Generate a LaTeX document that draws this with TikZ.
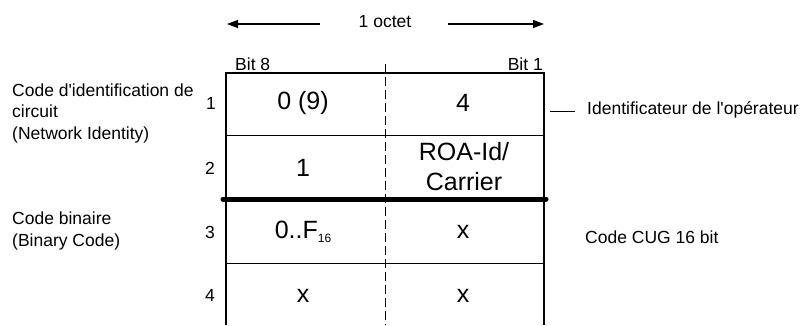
\documentclass[tikz,border=0pt]{standalone}
\usepackage{fontspec}
\setmainfont{Liberation Sans}
\usetikzlibrary{arrows.meta}
\begin{document}
\begin{tikzpicture}[x=1pt,y=-1pt,
  small/.style={font=\fontsize{17.5}{21.5}\selectfont, inner sep=0pt},
  big/.style={font=\fontsize{25}{30}\selectfont, inner sep=0pt, align=center},
  frame/.style={line width=1.3pt},
  thin/.style={line width=0.9pt},
  octarrow/.style={line width=1.1pt, -{Triangle[length=11pt,width=8pt]}}
]
\useasboundingbox (0,0) rectangle (805,325);
% arrows and octet label
\node[small] (oct) at (385,22) {1 octet};
\coordinate (la) at (320,24);
\coordinate (lb) at (227,24);
\coordinate (ra) at (448,24);
\coordinate (rb) at (544,24);
\draw[octarrow] (la) -- (lb);
\draw[octarrow] (ra) -- (rb);
% bit labels
\node[small, anchor=west] (b8) at (235,64) {Bit 8};
\node[small, anchor=east] (b1) at (543,64) {Bit 1};
% table frame
\coordinate (tl) at (226,73);
\coordinate (tr) at (544,73);
\coordinate (bl) at (226,325);
\coordinate (br) at (544,325);
\draw[frame] (bl) -- (tl) -- (tr) -- (br);
% row dividers
\coordinate (r1l) at (226,135); \coordinate (r1r) at (544,135);
\coordinate (r3l) at (226,263); \coordinate (r3r) at (544,263);
\draw[thin] (r1l) -- (r1r);
\draw[thin] (r3l) -- (r3r);
% dashed middle
\coordinate (dt) at (385,64);
\coordinate (db) at (385,325);
\draw[line width=1pt, dash pattern=on 9pt off 4pt] (dt) -- (db);
% thick divider
\coordinate (tkl) at (223,199);
\coordinate (tkr) at (546,199);
\draw[line width=5pt, line cap=round] (tkl) -- (tkr);
% row numbers
\node[small] (n1) at (211,103) {1};
\node[small] (n2) at (210,168) {2};
\node[small] (n3) at (210,232) {3};
\node[small] (n4) at (210,295) {4};
% cells
\node[big] (c11) at (303,103) {0 (9)};
\node[big] (c12) at (463,103) {4};
\node[big] (c21) at (303,168) {1};
\node[big] (c22) at (464,167) {ROA-Id/\\Carrier};
\node[big] (c31) at (303,232) {0..F\raisebox{-0.35ex}{\fontsize{12}{13}\selectfont 16}};
\node[big] (c32) at (463,232) {x};
\node[big] (c41) at (303,296) {x};
\node[big] (c42) at (463,296) {x};
% left labels
\node[small, anchor=west, align=left] (lab1) at (12,113) {Code d\textquotesingle identification de\\circuit\\(Network Identity)};
\node[small, anchor=west, align=left] (lab3) at (12,231) {Code binaire\\(Binary Code)};
% right labels
\node[small, anchor=west] (op) at (587,110) {Identificateur de l\textquotesingle opérateur};
\coordinate (opl) at (550,111);
\draw[thin] (opl) -- ([xshift=-12pt]op.west |- opl);
\node[small, anchor=west] (cug) at (585,237) {Code CUG 16 bit};
\end{tikzpicture}
\end{document}
